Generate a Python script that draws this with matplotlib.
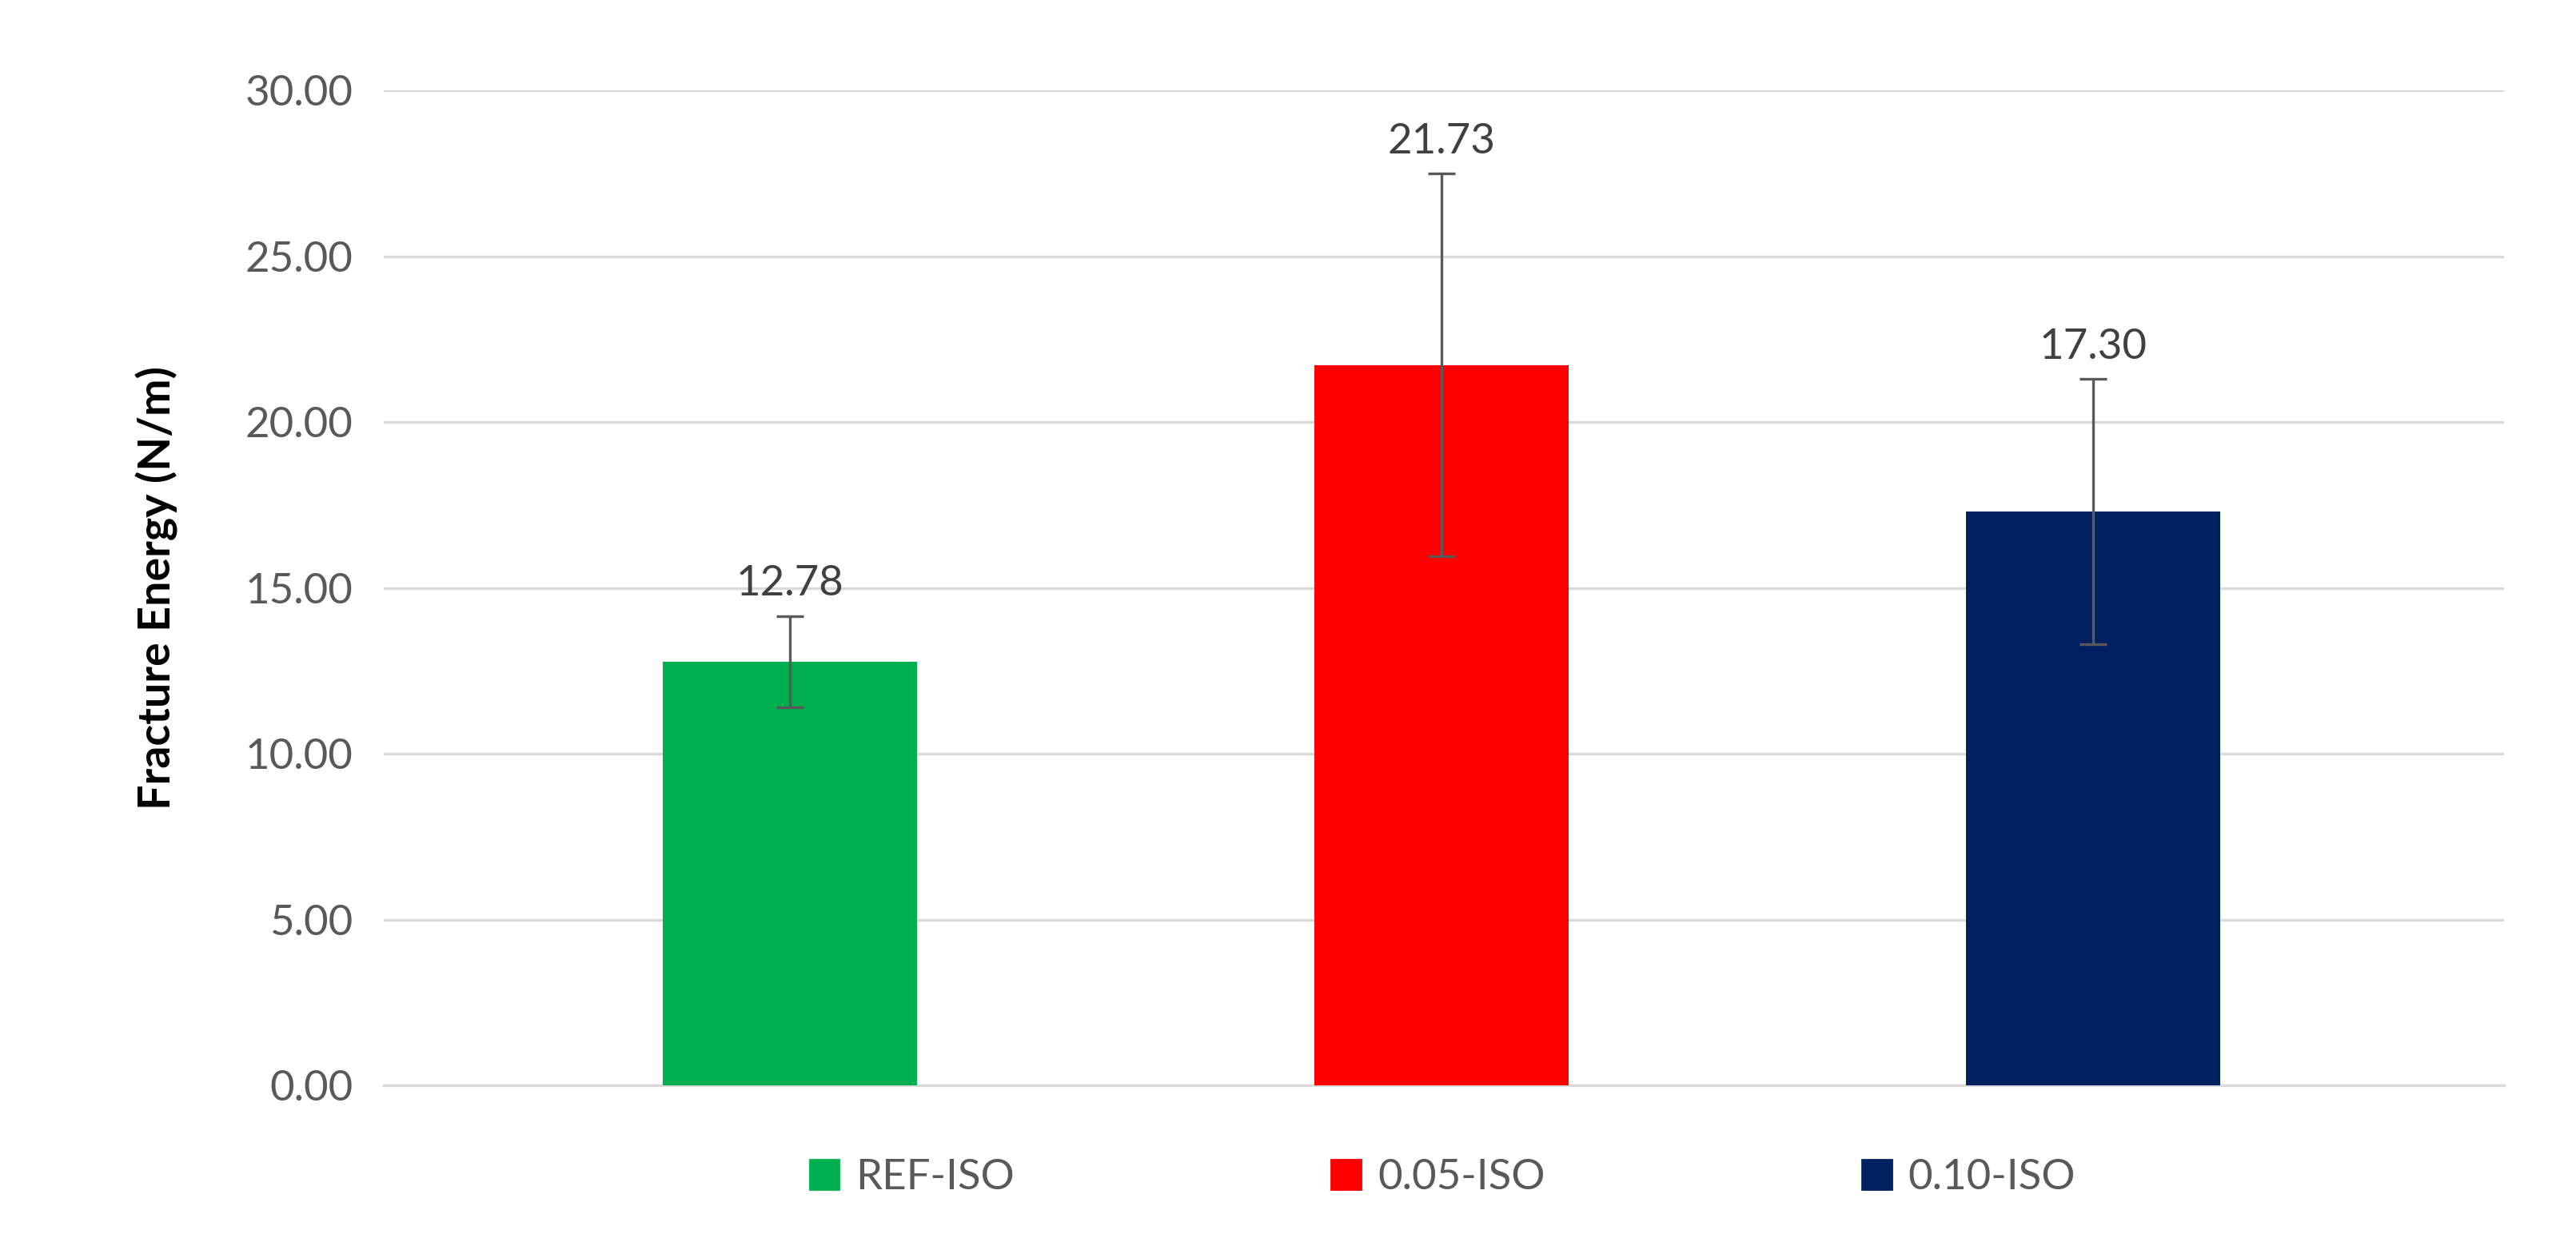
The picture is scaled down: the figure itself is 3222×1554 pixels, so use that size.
import matplotlib.pyplot as plt
from matplotlib.patches import Patch

categories = ["REF-ISO", "0.05-ISO", "0.10-ISO"]
values = [12.78, 21.73, 17.30]
errors = [1.38, 5.77, 4.00]
colors = ["#00b050", "#ff0000", "#002060"]

plt.rcParams['font.family'] = ['Lato', 'DejaVu Sans']

fig = plt.figure(figsize=(16.11, 7.77), dpi=200)
ax = fig.add_axes([0.149, 0.126, 0.823, 0.801])

x = [0, 1, 2]
ax.bar(x, values, width=0.39, color=colors, zorder=3)
ax.errorbar(x, values, yerr=errors, fmt='none', ecolor='#595959', elinewidth=1.2,
            capsize=6, capthick=1.2, zorder=4)
for xi, v, e in zip(x, values, errors):
    ax.text(xi, v + e + 0.4, f"{v:.2f}", ha='center', va='bottom', fontsize=19, color='#404040')

ax.set_xlim(-0.623, 2.63)
ax.set_ylim(0, 30)
ax.set_yticks(range(0, 31, 5))
ax.set_yticklabels([f"{t:.2f}" for t in range(0, 31, 5)], fontsize=19, color='#595959')
ax.set_xticks([])
ax.grid(axis='y', color='#d9d9d9', linewidth=1.2, zorder=0)
for s in ['top', 'right', 'left']:
    ax.spines[s].set_visible(False)
ax.spines['bottom'].set_color('#d9d9d9')
ax.spines['bottom'].set_linewidth(1.2)
ax.tick_params(axis='y', length=0, pad=14)
ax.set_ylabel("Fracture Energy (N/m)", fontsize=20, fontweight='bold', labelpad=30)

handles = [Patch(color=c, label=l) for c, l in zip(colors, categories)]
fig.legend(handles=handles, loc='center', bbox_to_anchor=(0.56, 0.052), ncol=3,
           frameon=False, fontsize=19, handlelength=0.7, handleheight=0.7,
           columnspacing=7.5, handletextpad=0.4, labelcolor='#595959')

fig.savefig("out.png", dpi=200)
